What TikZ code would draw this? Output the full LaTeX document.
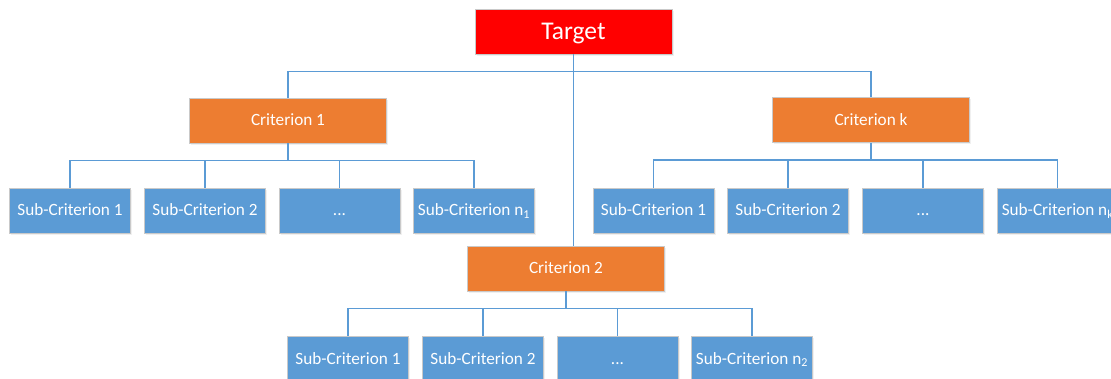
\documentclass[tikz,border=0pt]{standalone}
\usepackage{fontspec}
\setmainfont{Carlito}
\usetikzlibrary{shadows}
\definecolor{tred}{HTML}{FF0000}
\definecolor{corange}{HTML}{ED7D31}
\definecolor{sblue}{HTML}{5B9BD5}
\definecolor{lblue}{HTML}{5B9BD5}
\definecolor{bgray}{HTML}{C9C9C9}
\tikzset{
  box/.style={draw=bgray, line width=0.8pt, text=white, inner sep=0pt,
    drop shadow={opacity=0.12, shadow xshift=1.5pt, shadow yshift=-2pt}},
  targetbox/.style={box, fill=tred, minimum width=197pt, minimum height=45pt,
    text height=21pt, text depth=4.7pt, font=\fontsize{25.5}{30}\selectfont},
  critbox/.style={box, fill=corange, minimum width=197pt, minimum height=45pt,
    text height=14pt, text depth=3pt, font=\fontsize{17.2}{20}\selectfont},
  subbox/.style={box, fill=sblue, minimum width=121pt, minimum height=45pt,
    text height=14pt, text depth=3pt, font=\fontsize{17.2}{20}\selectfont},
  link/.style={draw=lblue, line width=1.5pt}
}
\begin{document}
\begin{tikzpicture}[x=1pt,y=1pt]
\useasboundingbox (0,0) rectangle (1111,-379);
% main nodes
\node[targetbox] (T) at (573.5,-31.5) {Target};
\node[critbox] (C1) at (288,-120.5) {Criterion 1};
\node[critbox] (Ck) at (871,-120) {Criterion k};
\node[critbox] (C2) at (566,-268.5) {Criterion 2};
% sub-criteria of criterion 1
\node[subbox] (A1) at (70,-210.5) {Sub-Criterion 1};
\node[subbox] (A2) at (205,-210.5) {Sub-Criterion 2};
\node[subbox] (A3) at (339.5,-210.5) {...};
\node[subbox] (A4) at (474,-210.5) {Sub-Criterion n\textsubscript{1}};
% sub-criteria of criterion k
\node[subbox] (K1) at (653.5,-210.5) {Sub-Criterion 1};
\node[subbox] (K2) at (788,-210.5) {Sub-Criterion 2};
\node[subbox] (K3) at (923,-210.5) {...};
\node[subbox] (K4) at (1057.5,-210.5) {Sub-Criterion n\textsubscript{k}};
% sub-criteria of criterion 2
\node[subbox] (B1) at (348,-358.5) {Sub-Criterion 1};
\node[subbox] (B2) at (483,-358.5) {Sub-Criterion 2};
\node[subbox] (B3) at (617.5,-358.5) {...};
\node[subbox] (B4) at (752,-358.5) {Sub-Criterion n\textsubscript{2}};
% connectors
\coordinate (tb) at ([yshift=-17pt]T.south);
\draw[link] (T.south) -- (tb) -| (C1.north);
\draw[link] (tb) -| (Ck.north);
\draw[link] (T.south) -- (T.south |- C2.north);
\coordinate (c1b) at ([yshift=-17pt]C1.south);
\draw[link] (C1.south) -- (c1b);
\foreach \n in {A1,A2,A3,A4} \draw[link] (c1b) -| (\n.north);
\coordinate (ckb) at ([yshift=-17pt]Ck.south);
\draw[link] (Ck.south) -- (ckb);
\foreach \n in {K1,K2,K3,K4} \draw[link] (ckb) -| (\n.north);
\coordinate (c2b) at ([yshift=-17pt]C2.south);
\draw[link] (C2.south) -- (c2b);
\foreach \n in {B1,B2,B3,B4} \draw[link] (c2b) -| (\n.north);
\end{tikzpicture}
\end{document}
